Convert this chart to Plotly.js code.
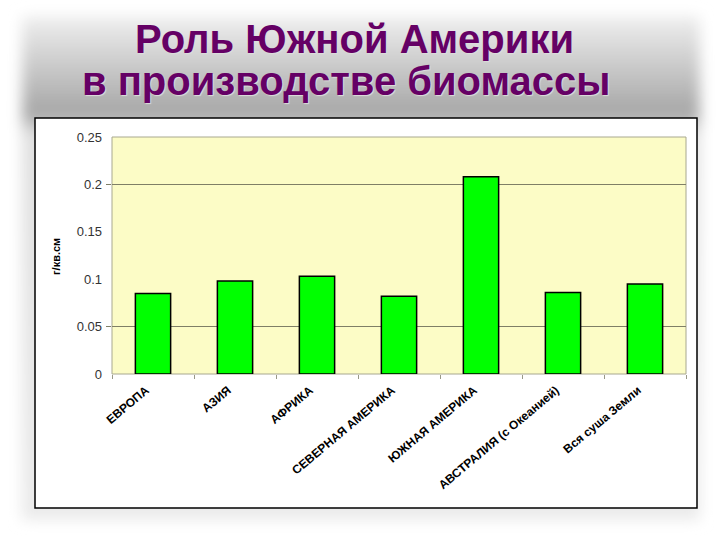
<!DOCTYPE html>
<html>
<head>
<meta charset="utf-8">
<script src="https://cdn.plot.ly/plotly-3.0.1.min.js"></script>
<style>html,body{margin:0;padding:0;background:#fff;}#chart{width:720px;height:540px;}</style>
</head>
<body>
<div id="chart"></div>
<script>
// ---- data ----
var categories = ["ЕВРОПА", "АЗИЯ", "АФРИКА", "СЕВЕРНАЯ АМЕРИКА", "ЮЖНАЯ АМЕРИКА", "АВСТРАЛИЯ (с Океанией)", "Вся суша Земли"];
var biomass = [0.085, 0.098, 0.103, 0.082, 0.208, 0.086, 0.095];
var yTickVals = [0, 0.05, 0.1, 0.15, 0.2, 0.25];
var yTickText = ["0", "0.05", "0.1", "0.15", "0.2", "0.25"];
var gridVals = [0.05, 0.2];
var titleLine1 = "Роль Южной Америки";
var titleLine2 = "в производстве биомассы";
var yTitle = "г/кв.см";

// ---- layout geometry (pixels -> paper) ----
var W = 720, H = 540;
var L = 112, R = 686, T = 137, B = 374;
function px(x) { return (x - L) / (R - L); }
function py(y) { return (B - y) / (B - T); }

var svg = "<svg xmlns='http://www.w3.org/2000/svg' width='720' height='540' viewBox='0 0 720 540'>" +
  "<defs><linearGradient id='g' x1='0' y1='10' x2='0' y2='530' gradientUnits='userSpaceOnUse'>" +
  "<stop offset='0' stop-color='#f4f4f4'/><stop offset='0.2' stop-color='#a6a6a6'/>" +
  "<stop offset='0.24' stop-color='#e0e0e0'/><stop offset='1' stop-color='#ebebeb'/></linearGradient>" +
  "<filter id='b' x='-10%' y='-10%' width='120%' height='120%'><feGaussianBlur stdDeviation='7'/></filter></defs>" +
  "<rect x='22' y='16' width='678' height='504' fill='url(#g)' filter='url(#b)'/></svg>";
var bgSrc = "data:image/svg+xml;charset=utf-8," + encodeURIComponent(svg);

var bars = {
  type: "bar",
  x: categories,
  y: biomass,
  marker: { color: "#00ff00", line: { color: "#000000", width: 1.5 } },
  hoverinfo: "x+y"
};
var ghost = {
  type: "scatter",
  mode: "markers",
  x: categories,
  y: biomass,
  yaxis: "y2",
  marker: { opacity: 0 },
  hoverinfo: "skip",
  showlegend: false
};

var titleFont = { family: "Liberation Sans, Arial, sans-serif", size: 40, weight: "bold", color: "#650065",
  shadow: "1px 1px 1px #dddddd" };

var layout = {
  width: W, height: H,
  margin: { l: L, r: W - R, t: T, b: H - B, pad: 0 },
  paper_bgcolor: "#ffffff",
  plot_bgcolor: "rgba(0,0,0,0)",
  showlegend: false,
  bargap: 0.57,
  font: { family: "Liberation Sans, Arial, sans-serif", color: "#000" },
  xaxis: {
    type: "category",
    tickangle: -40,
    tickfont: { family: "Liberation Sans, Arial, sans-serif", size: 12, weight: "bold", color: "#000" },
    ticks: "outside",
    tickson: "boundaries",
    ticklen: 4,
    tickcolor: "#999988",
    ticklabelstandoff: 6,
    ticklabelshift: -7,
    showgrid: false,
    showline: false,
    zeroline: false,
    automargin: false
  },
  yaxis: {
    range: [0, 0.25],
    tickmode: "array",
    tickvals: yTickVals,
    ticktext: yTickText,
    tickfont: { family: "Liberation Sans, Arial, sans-serif", size: 13, color: "#333" },
    ticks: "",
    ticklabelstandoff: 9,
    showgrid: false,
    zeroline: false,
    showline: false,
    fixedrange: true,
    automargin: false
  },
  yaxis2: {
    overlaying: "y",
    side: "left",
    range: [0, 0.25],
    tickmode: "array",
    tickvals: gridVals,
    showticklabels: false,
    ticks: "outside",
    ticklen: 5,
    tickcolor: "#7f7f66",
    showgrid: true,
    gridcolor: "#7f7f66",
    gridwidth: 1,
    zeroline: false,
    showline: false,
    fixedrange: true
  },
  images: [{
    source: bgSrc, xref: "paper", yref: "paper",
    x: px(0), y: py(0), sizex: W / (R - L), sizey: H / (B - T),
    xanchor: "left", yanchor: "top", sizing: "stretch", layer: "below"
  }],
  shapes: [
    { type: "rect", xref: "paper", yref: "paper", layer: "below",
      x0: px(35), x1: px(697), y0: py(508), y1: py(118),
      fillcolor: "#ffffff", line: { color: "#000000", width: 1.5 } },
    { type: "rect", xref: "paper", yref: "paper", layer: "below",
      x0: 0, x1: 1, y0: 0, y1: 1,
      fillcolor: "#fcfcc6", line: { color: "#a8a890", width: 1 } }
  ],
  annotations: [
    { text: titleLine1, xref: "paper", yref: "paper", x: px(354), y: py(39),
      xanchor: "center", yanchor: "middle", showarrow: false, font: titleFont },
    { text: titleLine2, xref: "paper", yref: "paper", x: px(346), y: py(81),
      xanchor: "center", yanchor: "middle", showarrow: false, font: titleFont },
    { text: yTitle, xref: "paper", yref: "paper", x: px(56), y: py(257),
      xanchor: "center", yanchor: "middle", showarrow: false, textangle: -90,
      font: { family: "Liberation Sans, Arial, sans-serif", size: 11, weight: "bold", color: "#000" } }
  ]
};

Plotly.newPlot("chart", [bars, ghost], layout, { staticPlot: true, displayModeBar: false });
</script>
</body>
</html>
